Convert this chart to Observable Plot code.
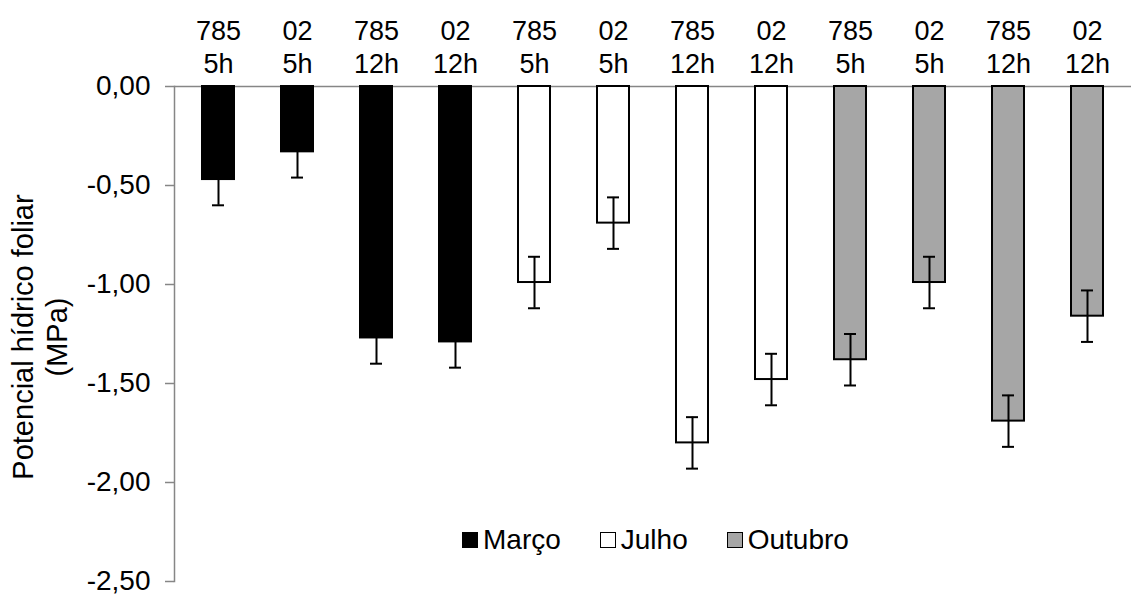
<!DOCTYPE html>
<html>
<head>
<meta charset="utf-8">
<script src="https://cdn.jsdelivr.net/npm/d3@7"></script>
<script src="https://cdn.jsdelivr.net/npm/@observablehq/plot@0.6"></script>
<style>
  html, body { margin: 0; padding: 0; background: #fff; }
  #wrap { position: relative; width: 1131px; height: 595px; font-family: "Liberation Sans", Arial, sans-serif; }
  #legend { position: absolute; top: 526px; left: 462px;
    display: flex; align-items: center; gap: 39px; font-size: 28px; line-height: 28px; color: #000; white-space: nowrap; }
  #legend .item { display: flex; align-items: center; }
  #legend .sw { width: 14px; height: 14px; border: 1px solid #000; margin-right: 5px; }
</style>
</head>
<body>
<div id="wrap"></div>
<script>
// ---- data ----
const clones = ["785", "02", "785", "02", "785", "02", "785", "02", "785", "02", "785", "02"];
const hours  = ["5h", "5h", "12h", "12h", "5h", "5h", "12h", "12h", "5h", "5h", "12h", "12h"];
const months = ["Março", "Março", "Março", "Março", "Julho", "Julho", "Julho", "Julho", "Outubro", "Outubro", "Outubro", "Outubro"];
const values = [-0.47, -0.33, -1.27, -1.29, -0.99, -0.69, -1.80, -1.48, -1.38, -0.99, -1.69, -1.16];
const errors = [0.13, 0.13, 0.13, 0.13, 0.13, 0.13, 0.13, 0.13, 0.13, 0.13, 0.13, 0.13];
const monthNames = ["Março", "Julho", "Outubro"];
const monthColors = ["#000000", "#ffffff", "#a6a6a6"];
const yTicks = [0, -0.5, -1, -1.5, -2, -2.5];
const yTitle = "Potencial hídrico foliar\n(MPa)";

const rows = values.map((v, i) => ({
  id: i + ":" + clones[i] + " " + hours[i] + " " + months[i],
  clone: clones[i], hour: hours[i], month: months[i], value: v, err: errors[i]
}));
const colorOf = m => monthColors[monthNames.indexOf(m)];
const fmt = d => d.toFixed(2).replace(".", ",");

const chart = Plot.plot({
  width: 1131,
  height: 595,
  marginTop: 86,
  marginBottom: 14,
  marginLeft: 174,
  marginRight: 0,
  style: { fontFamily: '"Liberation Sans", Arial, sans-serif', fontSize: "27px", color: "#000", background: "#fff" },
  x: { type: "band", domain: rows.map(d => d.id), paddingInner: 0.59, paddingOuter: 0.295, axis: null },
  y: { domain: [-2.5, 0], axis: null },
  marks: [
    Plot.ruleY([0], { stroke: "#868686", strokeWidth: 1.5 }),
    Plot.frame({ anchor: "left", stroke: "#868686", strokeWidth: 1.5 }),
    Plot.axisY({ ticks: yTicks, tickFormat: fmt, tickSize: 9, tickPadding: 15, stroke: "#868686", strokeWidth: 1.5, fill: "#000", fontSize: 28, label: null }),
    Plot.barY(rows, { x: "id", y: "value", fill: d => colorOf(d.month), stroke: "#000", strokeWidth: 2 }),
    Plot.ruleX(rows, { x: "id", y1: d => d.value - d.err, y2: d => d.value + d.err, stroke: "#000", strokeWidth: 2 }),
    Plot.tickY(rows, { x: "id", y: d => d.value - d.err, stroke: "#000", strokeWidth: 2, insetLeft: 10, insetRight: 10 }),
    Plot.tickY(rows, { x: "id", y: d => d.value + d.err, stroke: "#000", strokeWidth: 2, insetLeft: 10, insetRight: 10 }),
    Plot.text(rows, { x: "id", text: d => d.clone + "\n" + d.hour, frameAnchor: "top", lineAnchor: "bottom", lineHeight: 1.19, dy: -14, fontSize: 27, fill: "#000" }),
    Plot.text([yTitle], { text: d => d, frameAnchor: "left", rotate: -90, dx: -135, dy: 3, lineHeight: 1.17, fontSize: 29, textAnchor: "middle", fill: "#000" })
  ]
});

const wrap = document.getElementById("wrap");
wrap.appendChild(chart);

const legend = document.createElement("div");
legend.id = "legend";
monthNames.forEach((m, i) => {
  const item = document.createElement("div");
  item.className = "item";
  const sw = document.createElement("span");
  sw.className = "sw";
  sw.style.background = monthColors[i];
  const label = document.createElement("span");
  label.textContent = m;
  item.appendChild(sw);
  item.appendChild(label);
  legend.appendChild(item);
});
wrap.appendChild(legend);
</script>
</body>
</html>
